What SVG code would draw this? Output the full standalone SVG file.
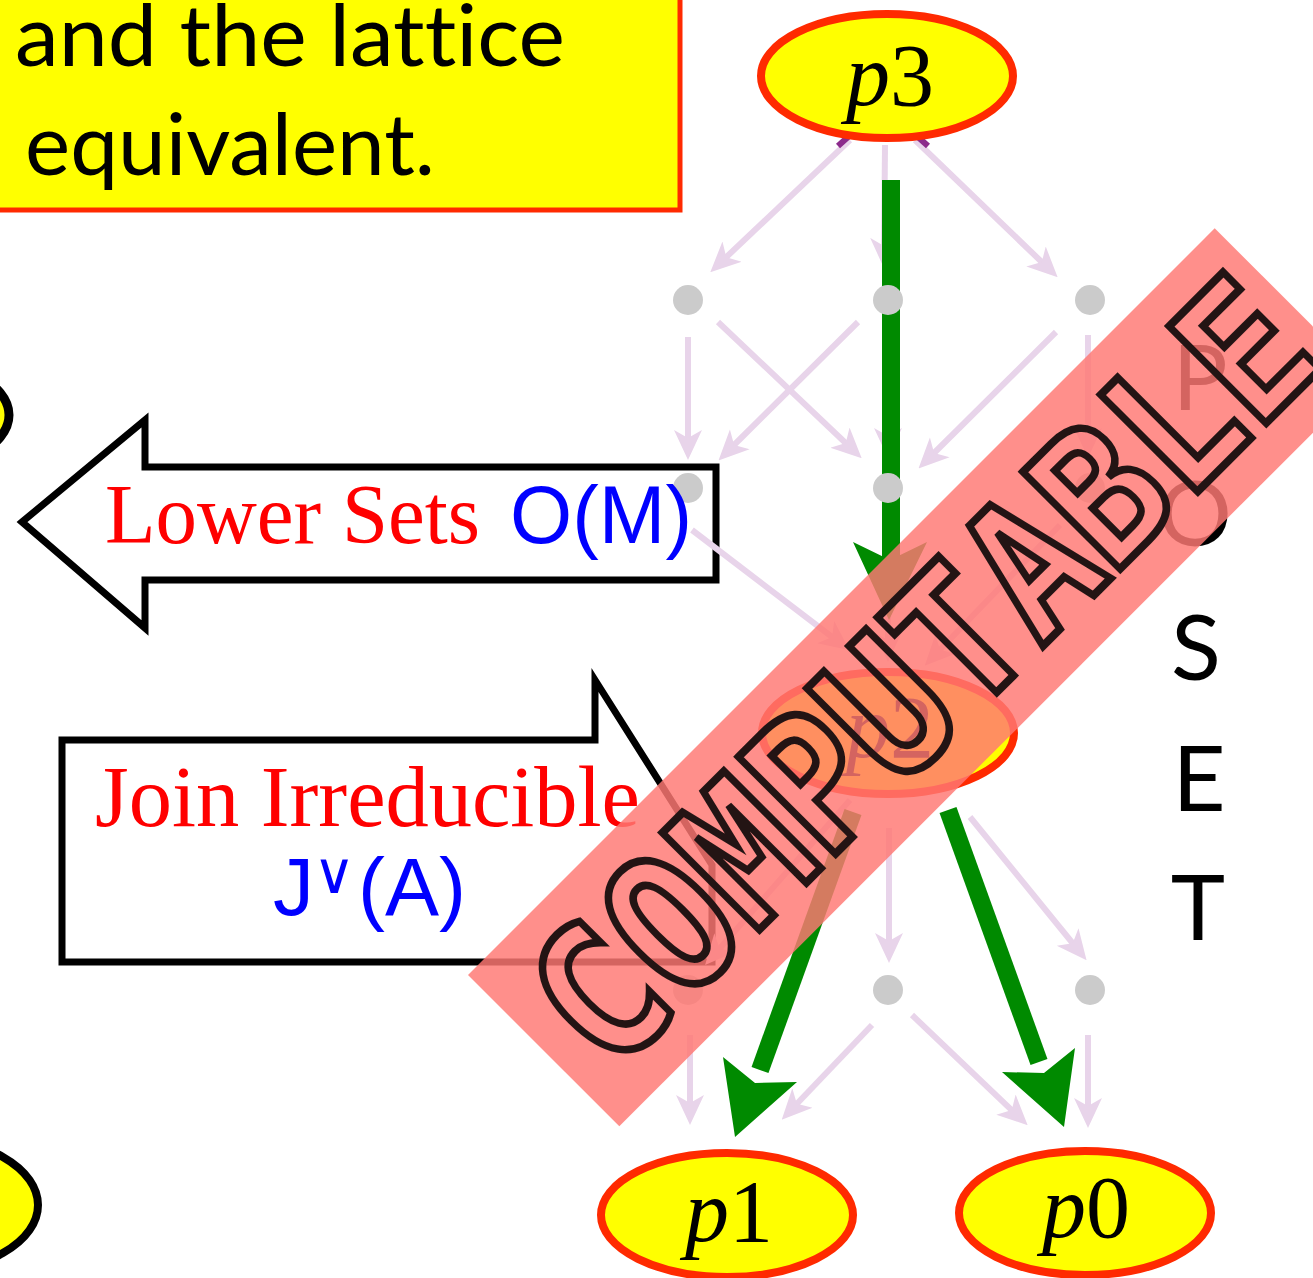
<svg xmlns="http://www.w3.org/2000/svg" width="1313" height="1278" viewBox="0 0 1313 1278">
<style>
.lav{stroke:#e8d4ea;stroke-width:6;fill:none;marker-end:url(#lh)}
.dot{fill:#cbcbcb}
.grn{stroke:#008a00;stroke-width:18;fill:none}
.gh{fill:#008a00}
.pn{fill:#ffff00;stroke:#ff2a00;stroke-width:8}
.pt{font-family:"Liberation Serif",serif;font-size:88px;fill:#000;text-anchor:middle}
.rm{font-family:"Liberation Serif",serif;fill:#ff0000}
.bs{font-family:"Liberation Sans",sans-serif;fill:#0000ff}
.gill{font-family:Lato,"Open Sans",sans-serif;font-size:86px;fill:#000;font-variant-ligatures:none}
.poset{font-family:Lato,"Open Sans",sans-serif;font-size:92px;fill:#000;text-anchor:middle}
.shape{fill:#fff;stroke:#000;stroke-width:7;stroke-linejoin:miter}
</style>
<defs>
<marker id="lh" viewBox="0 0 30 30" refX="18" refY="15" markerWidth="30" markerHeight="30" markerUnits="userSpaceOnUse" orient="auto">
<path d="M0,1 L30,15 L0,29 L8,15 z" fill="#e8d4ea"/>
</marker>
</defs>
<rect width="1313" height="1278" fill="#fff"/>

<g id="title-box">
<rect x="-10" y="-10" width="690" height="220" fill="#ffff00" stroke="#ff2a00" stroke-width="5"/>
<text class="gill" x="15" y="66" textLength="550" lengthAdjust="spacingAndGlyphs">and the lattice</text>
<text class="gill" x="25" y="175" textLength="410" lengthAdjust="spacingAndGlyphs">equivalent.</text>
</g>

<g id="left-node-top"><ellipse cx="-114" cy="415" rx="123" ry="60" fill="#ffff00" stroke="#000" stroke-width="9"/></g>
<g id="left-node-bottom"><ellipse cx="-82" cy="1205" rx="120" ry="68" fill="#ffff00" stroke="#000" stroke-width="8"/></g>

<g id="lower-sets-arrow">
<polygon class="shape" points="22,522 145,420 145,467 716,467 716,580 145,580 145,628"/>
</g>
<g id="join-irreducible-callout">
<polygon class="shape" points="62,740 595,740 595,680 712,865 712,962 62,962"/>
</g>

<g id="connectors">
<line class="lav" x1="850" y1="140" x2="719" y2="264"/>
<line class="lav" x1="885" y1="145" x2="884" y2="256"/>
<line class="lav" x1="915" y1="140" x2="1049" y2="269"/>
<line class="lav" x1="688" y1="337" x2="688" y2="448"/>
<line class="lav" x1="718" y1="322" x2="853" y2="450"/>
<line class="lav" x1="858" y1="322" x2="727" y2="452"/>
<line class="lav" x1="888" y1="335" x2="888" y2="446"/>
<line class="lav" x1="1056" y1="332" x2="927" y2="460"/>
<line class="lav" x1="1088" y1="335" x2="1088" y2="446"/>
<line class="lav" x1="692" y1="530" x2="840" y2="643"/>
<line class="lav" x1="888" y1="525" x2="888" y2="650"/>
<line class="lav" x1="1060" y1="525" x2="933" y2="657"/>
<line class="lav" x1="850" y1="800" x2="713" y2="956"/>
<line class="lav" x1="889" y1="828" x2="889" y2="951"/>
<line class="lav" x1="970" y1="817" x2="1079" y2="951"/>
<line class="lav" x1="690" y1="1035" x2="690" y2="1113"/>
<line class="lav" x1="872" y1="1025" x2="790" y2="1111"/>
<line class="lav" x1="912" y1="1015" x2="1019" y2="1117"/>
<line class="lav" x1="1088" y1="1035" x2="1088" y2="1116"/>
<line x1="848" y1="137" x2="838" y2="146" stroke="#8c2b8c" stroke-width="6"/>
<line x1="918" y1="137" x2="928" y2="146" stroke="#8c2b8c" stroke-width="6"/>
<line class="grn" x1="891" y1="180" x2="891" y2="562"/>
<polygon class="gh" points="889,620 853,542 890,560 927,542"/>
<line class="grn" x1="853" y1="812" x2="760" y2="1070"/>
<polygon class="gh" points="735,1137 723,1057 755,1083 797,1082"/>
<line class="grn" x1="948" y1="810" x2="1039" y2="1062"/>
<polygon class="gh" points="1064,1127 1002,1072 1044,1073 1075,1048"/>
</g>

<g id="d1a"><circle class="dot" cx="688" cy="300" r="15"/></g>
<g id="d1b"><circle class="dot" cx="888" cy="300" r="15"/></g>
<g id="d1c"><circle class="dot" cx="1090" cy="300" r="15"/></g>
<g id="d2a"><circle class="dot" cx="688" cy="488" r="15"/></g>
<g id="d2b"><circle class="dot" cx="888" cy="488" r="15"/></g>
<g id="d2c"><circle class="dot" cx="1090" cy="488" r="15"/></g>
<g id="d4a"><circle class="dot" cx="688" cy="990" r="15"/></g>
<g id="d4b"><circle class="dot" cx="888" cy="990" r="15"/></g>
<g id="d4c"><circle class="dot" cx="1090" cy="990" r="15"/></g>

<g id="p3"><ellipse class="pn" cx="887" cy="76" rx="126" ry="62"/><text class="pt" x="890" y="105"><tspan font-style="italic">p</tspan>3</text></g>
<g id="p2"><ellipse class="pn" cx="888" cy="733" rx="126" ry="61"/><text class="pt" x="890" y="757"><tspan font-style="italic">p</tspan>2</text></g>
<g id="p1"><ellipse class="pn" cx="727" cy="1215" rx="126" ry="62"/><text class="pt" x="729" y="1241"><tspan font-style="italic">p</tspan>1</text></g>
<g id="p0"><ellipse class="pn" cx="1085" cy="1213" rx="126" ry="62"/><text class="pt" x="1086" y="1237"><tspan font-style="italic">p</tspan>0</text></g>

<g id="labels">
<text class="rm" x="105" y="543" font-size="84" textLength="375" lengthAdjust="spacingAndGlyphs">Lower Sets</text>
<text class="bs" x="510" y="543" font-size="82" textLength="182" lengthAdjust="spacingAndGlyphs">O(M)</text>
<text class="rm" x="95" y="826" font-size="86" textLength="545" lengthAdjust="spacingAndGlyphs">Join Irreducible</text>
<text class="bs" x="273" y="915" font-size="82">J</text>
<text class="bs" x="313" y="893" font-size="58" font-family="DejaVu Sans">∨</text>
<text class="bs" x="358" y="915" font-size="82" textLength="108" lengthAdjust="spacingAndGlyphs">(A)</text>
</g>

<g id="poset">
<text class="poset" x="1200" y="410">P</text>
<text class="poset" x="1195" y="546">O</text>
<text class="poset" x="1196" y="680">S</text>
<text class="poset" x="1199" y="811">E</text>
<text class="poset" x="1198" y="940">T</text>
</g>

<g id="stamp" transform="translate(468,975) rotate(-45)">
<rect x="0" y="0" width="1056" height="214" fill="#ff7874" opacity="0.83"/>
<text x="28" y="174" font-family="DejaVu Sans Mono" font-weight="bold" font-size="188" textLength="1014" lengthAdjust="spacingAndGlyphs" fill="none" stroke="#231414" stroke-width="8" stroke-linejoin="miter">COMPUTABLE</text>
</g>
</svg>
